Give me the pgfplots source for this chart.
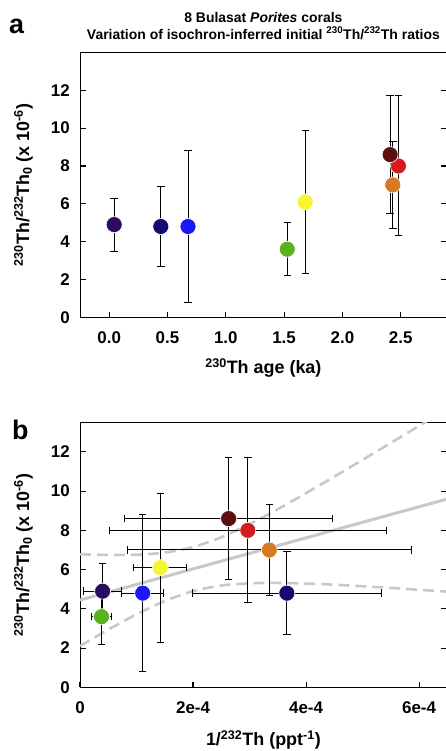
\documentclass[border=0pt]{standalone}
\usepackage{fontspec}
\setmainfont{Liberation Sans}
\usepackage{pgfplots}
\pgfplotsset{compat=1.18}
\usepackage{pgfplotstable}

\definecolor{cpurple}{RGB}{45,10,100}
\definecolor{cnavy}{RGB}{18,12,110}
\definecolor{cblue}{RGB}{28,22,250}
\definecolor{cgreen}{RGB}{90,178,30}
\definecolor{cyellow}{RGB}{245,245,50}
\definecolor{cbrown}{RGB}{92,15,15}
\definecolor{corange}{RGB}{215,120,35}
\definecolor{cred}{RGB}{210,28,30}
\definecolor{cgray}{RGB}{200,200,200}

% panel a: 230Th age (ka), initial ratio (x1e-6), error
\pgfplotstableread{
x     y    ey   c
0.043 4.9  1.4  p
0.443 4.8  2.1  n
0.676 4.8  4.0  b
1.527 3.6  1.4  g
1.681 6.1  3.8  y
2.480 8.0  3.7  r
2.432 7.0  2.3  o
2.409 8.6  3.1  w
}\dataA

% panel b: 1/232Th (units of 1e-4 ppt^-1), initial ratio, errors
\pgfplotstableread{
x    y    ex   ey   c
0.40 4.9  0.33 1.4  p
3.66 4.8  1.67 2.1  n
1.11 4.8  0.37 4.0  b
0.38 3.6  0.18 1.4  g
1.42 6.1  0.47 3.8  y
2.97 8.0  2.45 3.7  r
3.35 7.0  2.51 2.3  o
2.63 8.6  1.84 3.1  w
}\dataB

\pgfplotsset{
  myax/.style={
    scale only axis, width=366.8bp, height=264.8bp, anchor=south west,
    axis line style={line width=1bp, black},
    tick align=inside, major tick length=5.5bp,
    every tick/.style={black, line width=1.1bp},
    xtick pos=left, ytick pos=both, yticklabel pos=left,
    /pgf/number format/assume math mode=true,
    ticklabel style={font=\fontsize{17}{17}\selectfont\bfseries},
    xticklabel style={anchor=base, yshift=-26bp, inner sep=0pt},
    yticklabel style={anchor=east, xshift=-10bp, inner sep=0pt},
    every axis y label/.style={at={(axis description cs:-0.128,0.5)}, rotate=90, anchor=south, inner sep=0pt, font=\fontsize{18}{18}\selectfont\bfseries},
    ylabel={\textsuperscript{230}Th/\textsuperscript{232}Th\textsubscript{0} (x 10\textsuperscript{-6})},
    clip=true,
  },
  ebars/.style={only marks, mark=*, mark size=0pt,
    error bars/error bar style={draw=black, line width=1bp},
    error bars/error mark options={rotate=90, draw=black, line width=1bp, mark size=3.7bp}},
  dots/.style={scatter, only marks, scatter src=explicit symbolic, mark size=8bp,
    scatter/classes={
      p={mark=*, fill=cpurple, draw=white, line width=0.6bp},
      n={mark=*, fill=cnavy, draw=white, line width=0.6bp},
      b={mark=*, fill=cblue, draw=white, line width=0.6bp},
      g={mark=*, fill=cgreen, draw=white, line width=0.6bp},
      y={mark=*, fill=cyellow, draw=white, line width=0.6bp},
      r={mark=*, fill=cred, draw=white, line width=0.6bp},
      o={mark=*, fill=corange, draw=white, line width=0.6bp},
      w={mark=*, fill=cbrown, draw=white, line width=0.6bp}}},
}

\begin{document}
\begin{tikzpicture}[x=1bp,y=1bp]
% ---------------- panel a ----------------
\begin{axis}[myax, at={(80bp,433.7bp)},
  xmin=-0.25, xmax=2.895, ymin=0, ymax=14,
  xtick={0,0.5,1,1.5,2,2.5}, ytick={0,2,4,6,8,10,12},
  xticklabel style={/pgf/number format/.cd, fixed, fixed zerofill, precision=1},
  xlabel={\textsuperscript{230}Th age (ka)},
  every axis x label/.style={at={(axis description cs:0.5,0)}, anchor=base, yshift=-56bp, inner sep=0pt, font=\fontsize{18}{18}\selectfont\bfseries},
  title={8 Bulasat \textit{Porites} corals\\Variation of isochron-inferred initial \textsuperscript{230}Th/\textsuperscript{232}Th ratios},
  title style={at={(axis description cs:0.5,1)}, anchor=south, yshift=7bp, xshift=0bp, inner sep=0pt, align=center, font=\fontsize{14}{16.5}\selectfont\bfseries},
]
\addplot[ebars, error bars/.cd, y dir=both, y explicit] table[x=x, y=y, y error=ey] {\dataA};
\addplot[dots] table[x=x, y=y, meta=c] {\dataA};
\end{axis}
% ---------------- panel b ----------------
\begin{axis}[myax, at={(80bp,63.7bp)},
  xmin=0, xmax=6.49, ymin=0, ymax=13.5,
  xtick={0,2,4,6}, xticklabels={0,2e-4,4e-4,6e-4},
  ytick={0,2,4,6,8,10,12},
  xlabel={1/\textsuperscript{232}Th (ppt\textsuperscript{-1})},
  every axis x label/.style={at={(axis description cs:0.5,0)}, anchor=base, yshift=-58bp, inner sep=0pt, font=\fontsize{18}{18}\selectfont\bfseries},
]
\addplot[cgray, line width=2.6bp, dash pattern=on 11bp off 6bp, smooth] coordinates {
(0,6.78) (0.5,6.75) (1,6.76) (1.5,6.87) (2,7.15) (2.5,7.65) (3,8.32) (3.5,9.08) (4,9.90) (4.5,10.74) (5,11.60) (5.5,12.46) (6,13.33) (6.5,14.2)};
\addplot[cgray, line width=2.6bp, dash pattern=on 11bp off 6bp, smooth] coordinates {
(0,2.10) (0.5,2.94) (1,3.72) (1.5,4.40) (2,4.90) (2.5,5.19) (3,5.30) (3.5,5.32) (4,5.29) (4.5,5.23) (5,5.15) (5.5,5.07) (6,4.97) (6.5,4.88)};
\addplot[cgray, line width=3bp] coordinates {(0,4.45) (6.5,9.6)};
\addplot[ebars, error bars/.cd, x dir=both, x explicit, y dir=both, y explicit] table[x=x, y=y, x error=ex, y error=ey] {\dataB};
\addplot[dots] table[x=x, y=y, meta=c] {\dataB};
\end{axis}
% panel letters
\node[anchor=base west, inner sep=0pt, font=\fontsize{27}{27}\selectfont\bfseries] at (9bp,717.7bp) {a};
\node[anchor=base west, inner sep=0pt, font=\fontsize{27}{27}\selectfont\bfseries] at (12bp,311.7bp) {b};
\pgfresetboundingbox
\path[use as bounding box] (0,0) rectangle (446bp,751bp);
\end{tikzpicture}
\end{document}
